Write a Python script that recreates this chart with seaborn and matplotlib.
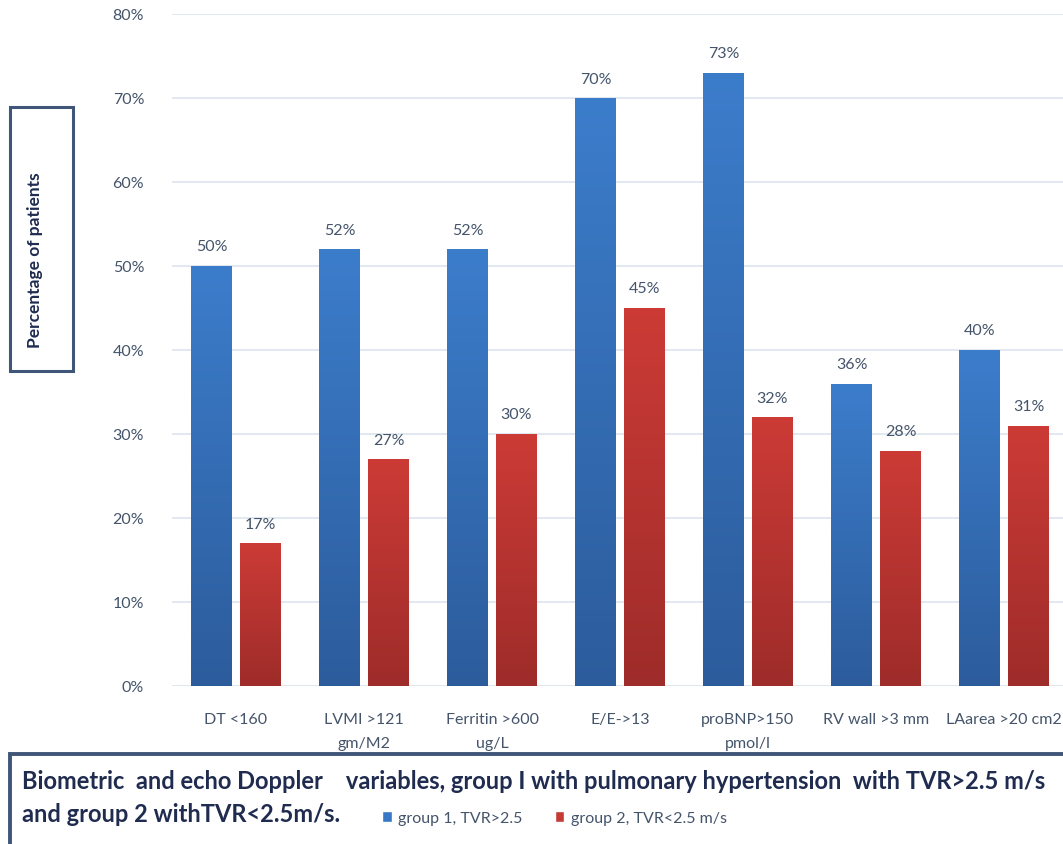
import numpy as np
import pandas as pd
import matplotlib
matplotlib.use("Agg")
import matplotlib.pyplot as plt
from matplotlib.patches import Rectangle
import seaborn as sns

categories = ["DT <160", "LVMI >121\ngm/M2", "Ferritin >600\nug/L", "E/E->13",
              "proBNP>150\npmol/l", "RV wall >3 mm", "LAarea >20 cm2"]
group1 = [50, 52, 52, 70, 73, 36, 40]
group2 = [17, 27, 30, 45, 32, 28, 31]
series_names = ["group 1, TVR>2.5", "group 2, TVR<2.5 m/s"]
y_ticks = [0, 10, 20, 30, 40, 50, 60, 70, 80]

df = pd.DataFrame({
    "category": categories * 2,
    "group": [series_names[0]] * len(categories) + [series_names[1]] * len(categories),
    "value": group1 + group2,
})

sns.set_theme(style="white")
plt.rcParams["font.family"] = ["Lato", "DejaVu Sans"]

TEXT = "#44546A"
NAVY = "#1F2B4F"
BOX = "#3F5679"
palette = {series_names[0]: "#3877C6", series_names[1]: "#C43A34"}
grad = {series_names[0]: ("#3C7DCB", "#2C5C9C"), series_names[1]: ("#CC3B36", "#9E2C2A")}

W, H = 1063, 845
fig = plt.figure(figsize=(W / 100, H / 100), dpi=100)
ax = fig.add_axes([172 / W, 1 - 687 / H, (1068 - 172) / W, (687 - 15) / H])

sns.barplot(data=df, x="category", y="value", hue="group", palette=palette,
            width=0.765, gap=0.18, ax=ax, legend=False, saturation=1)

# vertical colour gradient inside each bar
for container, name in zip(ax.containers, series_names):
    top, bottom = (np.array(matplotlib.colors.to_rgb(c)) for c in grad[name])
    t = np.linspace(0, 1, 256)[:, None]
    img = (top[None, :] * (1 - t) + bottom[None, :] * t)[:, None, :]
    for bar in container.patches:
        x0, w, h = bar.get_x(), bar.get_width(), bar.get_height()
        bar.set_edgecolor("none")
        im = ax.imshow(img, extent=[x0, x0 + w, 0, h], origin="upper",
                       aspect="auto", zorder=bar.get_zorder() + 0.1)
        im.set_clip_path(bar)
    ax.bar_label(container, labels=[f"{v:.0f}%" for v in container.datavalues],
                 padding=9, fontsize=11.5, color=TEXT)

ax.set_xlim(-0.5, len(categories) - 0.5)
ax.set_ylim(0, 80)
ax.set_yticks(y_ticks)
ax.set_yticklabels([f"{v}%" for v in y_ticks])
ax.yaxis.grid(True, color="#DCE4EE", linewidth=1.2)
ax.set_axisbelow(True)
for s in ax.spines.values():
    s.set_visible(False)
ax.tick_params(axis="y", length=0, pad=20, labelsize=11.5, labelcolor=TEXT)
ax.tick_params(axis="x", length=0, pad=19, labelsize=11.5, labelcolor=TEXT)
for lbl in ax.get_xticklabels():
    lbl.set_linespacing(1.9)
    lbl.set_verticalalignment("top")
ax.set_xlabel("")
ax.set_ylabel("")

# framed vertical axis title
fig.patches.append(Rectangle((10 / W, 1 - 372 / H), 63 / W, 264 / H,
                             transform=fig.transFigure, fill=False,
                             edgecolor=BOX, linewidth=2.2))
fig.text(35 / W, 1 - 260 / H, "Percentage of patients", rotation=90,
         ha="center", va="center", fontsize=12.5, fontweight="bold", color=NAVY)

# caption box with legend
fig.patches.append(Rectangle((10 / W, -0.05), 1.1, (1 - 755 / H) + 0.05,
                             transform=fig.transFigure, fill=True,
                             facecolor="white", edgecolor=BOX, linewidth=2.8,
                             zorder=3))
fig.text(22 / W, 1 - 782 / H,
         "Biometric  and echo Doppler    variables, group I with pulmonary hypertension  with TVR>2.5 m/s",
         ha="left", va="center", fontsize=17, fontweight="bold", color=NAVY, zorder=4)
fig.text(22 / W, 1 - 815 / H, "and group 2 withTVR<2.5m/s.",
         ha="left", va="center", fontsize=17, fontweight="bold", color=NAVY, zorder=4)

handles = [Rectangle((0, 0), 1, 1, facecolor=palette[n]) for n in series_names]
leg = fig.legend(handles, series_names, loc="center left",
                 bbox_to_anchor=(368 / W, 1 - 819 / H), ncol=2, frameon=False,
                 fontsize=11.5, labelcolor=TEXT, handlelength=0.6, handleheight=0.7,
                 handletextpad=0.4, columnspacing=2.0)
leg.set_zorder(5)

fig.savefig("out.png", dpi=100)
